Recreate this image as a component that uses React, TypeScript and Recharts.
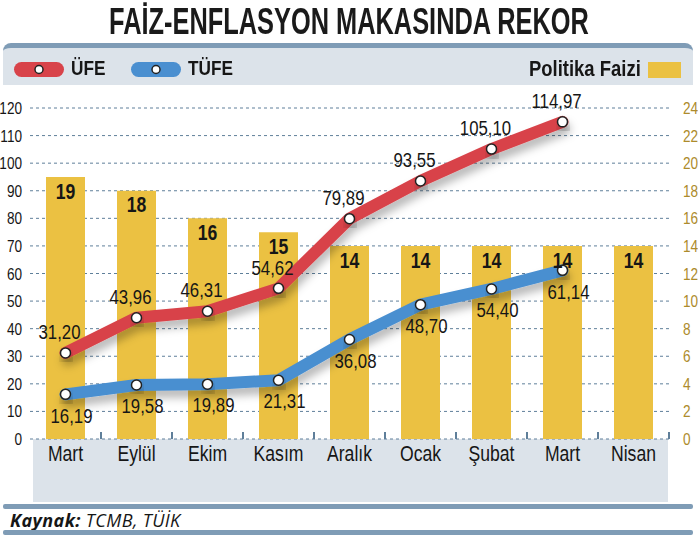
import React from "react";
import {
  ComposedChart,
  Bar,
  Line,
  XAxis,
  YAxis,
  CartesianGrid,
  LabelList,
} from "recharts";

// aylar (kategoriler)
const months = ["Mart", "Eylül", "Ekim", "Kasım", "Aralık", "Ocak", "Şubat", "Mart", "Nisan"];
// yıllık değişim, %
const ufe = [31.2, 43.96, 46.31, 54.62, 79.89, 93.55, 105.1, 114.97, null];
const tufe = [16.19, 19.58, 19.89, 21.31, 36.08, 48.7, 54.4, 61.14, null];
// politika faizi, %
const politikaFaizi = [19, 18, 16, 15, 14, 14, 14, 14, 14];

const leftTicks = [0, 10, 20, 30, 40, 50, 60, 70, 80, 90, 100, 110, 120];
const rightTicks = [0, 2, 4, 6, 8, 10, 12, 14, 16, 18, 20, 22, 24];

const data = months.map((m, i) => ({
  ay: m,
  ufe: ufe[i],
  tufe: tufe[i],
  faiz: politikaFaizi[i],
}));

const W = 698;
const H = 535;
const TOP = 108;
const BOTTOM = 96;
const LEFT_AXIS_W = 30;
const RIGHT_AXIS_W = 29;
const BAND = (W - LEFT_AXIS_W - RIGHT_AXIS_W) / months.length;

// dar yazı yok, Liberation Sans yatayda sıkıştırılıyor
const SANS = "'Liberation Sans', Arial, sans-serif";
const SQUEEZE = 0.8;
const RED = "#d8434a";
const BLUE = "#4a8fd0";
const GOLD = "#ebc142";
const PANEL = "#dce3ea";
const FRAME = "#7f9cb6";
const GRID = "#5f7f9a";
const INK = "#161616";

const fmt = (v: number) => v.toFixed(2).replace(".", ",");

const Narrow = ({ x, y, anchor = "middle", size = 20, bold = false, fill = INK, children }: any) => (
  <text
    transform={`translate(${x},${y}) scale(${SQUEEZE},1)`}
    textAnchor={anchor}
    dominantBaseline="central"
    fontFamily={SANS}
    fontSize={size}
    fontWeight={bold ? "bold" : "normal"}
    fill={fill}
  >
    {children}
  </text>
);

const upperLabel = (props: any) => {
  const { x, y, value } = props;
  if (value == null) return null;
  return <Narrow x={x - 6} y={y - 21} size={21}>{fmt(value)}</Narrow>;
};

const lowerLabel = (props: any) => {
  const { x, y, value } = props;
  if (value == null) return null;
  return <Narrow x={x + 6} y={y + 21} size={21}>{fmt(value)}</Narrow>;
};

const barLabel = (props: any) => {
  const { x, y, width, value } = props;
  return <Narrow x={x + width / 2} y={y + 14} size={22} bold>{value}</Narrow>;
};

const monthTick = (props: any) => {
  const { x, y, payload } = props;
  return <Narrow x={x} y={y + 14} size={22}>{payload.value}</Narrow>;
};

const leftTick = (props: any) => {
  const { x, y, payload } = props;
  return <Narrow x={x} y={y} anchor="end" size={17}>{payload.value}</Narrow>;
};

const rightTick = (props: any) => {
  const { x, y, payload } = props;
  return <Narrow x={x} y={y} anchor="start" size={17} fill="#ad8b2c">{payload.value}</Narrow>;
};

const Pill = ({ color }: { color: string }) => (
  <svg width={52} height={17} style={{ display: "block" }}>
    <rect x={1} y={1} width={50} height={15} rx={7.5} fill={color} />
    <circle cx={26} cy={8.5} r={4} fill="#fff" stroke="#222" strokeWidth={1.5} />
  </svg>
);

const legendText: React.CSSProperties = {
  position: "absolute",
  fontFamily: SANS,
  fontWeight: "bold",
  color: INK,
  transform: "scaleX(0.82)",
  transformOrigin: "left center",
  whiteSpace: "nowrap",
};

export default function App() {
  const baseY = H - BOTTOM;
  return (
    <div style={{ position: "absolute", left: 0, top: 0, width: W, height: H, background: "#fff", overflow: "hidden" }}>
      {/* başlık */}
      <div style={{ position: "absolute", left: 0, top: 0, width: W, textAlign: "center", fontFamily: SANS, fontWeight: "bold", fontSize: 36, lineHeight: "44px", color: "#1a1a1a", transform: "scaleX(0.705)", whiteSpace: "nowrap" }}>
        FAİZ-ENFLASYON MAKASINDA REKOR
      </div>

      {/* lejant paneli */}
      <div style={{ position: "absolute", left: 3, top: 43, width: 690, height: 42, background: PANEL, borderTop: `5px solid ${FRAME}`, borderRadius: "8px 8px 0 0", boxSizing: "border-box" }} />
      <div style={{ position: "absolute", left: 13, top: 61 }}><Pill color={RED} /></div>
      <div style={{ ...legendText, left: 71, top: 56, fontSize: 21 }}>ÜFE</div>
      <div style={{ position: "absolute", left: 130, top: 61 }}><Pill color={BLUE} /></div>
      <div style={{ ...legendText, left: 188, top: 56, fontSize: 21 }}>TÜFE</div>
      <div style={{ ...legendText, left: 529, top: 56, fontSize: 22.5 }}>Politika Faizi</div>
      <div style={{ position: "absolute", left: 648, top: 62, width: 33, height: 16, background: GOLD }} />

      {/* x ekseni bandı ve kategori çentikleri */}
      <div style={{ position: "absolute", left: 33, top: baseY, width: 635, height: 63, background: PANEL }} />
      {months.map((_, i) => (
        <div
          key={i}
          style={{ position: "absolute", left: LEFT_AXIS_W + (i + 1) * BAND - 1, top: baseY - 7, width: 2, height: 7, background: GRID }}
        />
      ))}

      {/* alt çerçeve ve kaynak */}
      <div style={{ position: "absolute", left: 3, top: 504, width: 690, height: 5, background: FRAME, borderRadius: 2 }} />
      <div style={{ position: "absolute", left: 10, top: 508, fontFamily: "'Open Sans', sans-serif", fontStyle: "italic", fontSize: 18, letterSpacing: 0.4, color: INK, whiteSpace: "nowrap" }}>
        <b>Kaynak:</b> TCMB, TÜİK
      </div>
      <div style={{ position: "absolute", left: 3, top: 530, width: 690, height: 5, background: FRAME, borderRadius: 2 }} />

      <div style={{ position: "absolute", left: 0, top: 0 }}>
        <ComposedChart
          width={W}
          height={H}
          data={data}
          margin={{ top: TOP, right: 0, bottom: BOTTOM - 30, left: 0 }}
        >
          <defs>
            <filter id="lineShadow" x="-10%" y="-20%" width="130%" height="160%">
              <feDropShadow dx="2" dy="7" stdDeviation="4" floodColor="#000" floodOpacity="0.28" />
            </filter>
          </defs>
          <CartesianGrid vertical={false} stroke={GRID} strokeDasharray="3 3" yAxisId="left" />
          <XAxis
            dataKey="ay"
            axisLine={false}
            tickLine={false}
            tickSize={0}
            tickMargin={0}
            height={30}
            interval={0}
            tick={monthTick}
          />
          <YAxis
            yAxisId="left"
            domain={[0, 120]}
            ticks={leftTicks}
            width={LEFT_AXIS_W}
            axisLine={false}
            tickLine={false}
            tickMargin={2}
            interval={0}
            tick={leftTick}
          />
          <YAxis
            yAxisId="right"
            orientation="right"
            domain={[0, 24]}
            ticks={rightTicks}
            width={RIGHT_AXIS_W}
            axisLine={false}
            tickLine={false}
            tickMargin={8}
            interval={0}
            tick={rightTick}
          />
          <Bar yAxisId="right" dataKey="faiz" fill={GOLD} barSize={39} isAnimationActive={false}>
            <LabelList dataKey="faiz" content={barLabel} />
          </Bar>
          <Line
            yAxisId="left"
            dataKey="tufe"
            type="linear"
            stroke={BLUE}
            strokeWidth={12}
            strokeLinecap="round"
            strokeLinejoin="round"
            filter="url(#lineShadow)"
            dot={{ r: 5, fill: "#fff", stroke: "#222", strokeWidth: 1.5 }}
            activeDot={false}
            isAnimationActive={false}
          >
            <LabelList dataKey="tufe" content={lowerLabel} />
          </Line>
          <Line
            yAxisId="left"
            dataKey="ufe"
            type="linear"
            stroke={RED}
            strokeWidth={12}
            strokeLinecap="round"
            strokeLinejoin="round"
            filter="url(#lineShadow)"
            dot={{ r: 5, fill: "#fff", stroke: "#222", strokeWidth: 1.5 }}
            activeDot={false}
            isAnimationActive={false}
          >
            <LabelList dataKey="ufe" content={upperLabel} />
          </Line>
        </ComposedChart>
      </div>
    </div>
  );
}
